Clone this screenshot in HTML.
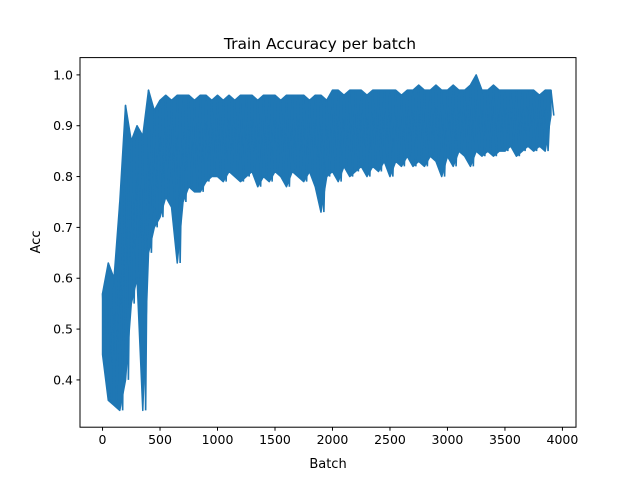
<!DOCTYPE html>
<html><head><meta charset="utf-8"><style>
html,body{margin:0;padding:0;background:#fff;}
svg{display:block;font-family:"DejaVu Sans","Liberation Sans",sans-serif;}
</style></head><body>
<svg id="chart" width="640" height="480" viewBox="0 0 640 480">
<rect width="640" height="480" fill="#fff"/>
<text x="320" y="49" text-anchor="middle" font-size="15.5">Train Accuracy per batch</text>
<text x="328" y="468" text-anchor="middle" font-size="13">Batch</text>
<text x="40" y="242" text-anchor="middle" font-size="13" transform="rotate(-90 40 242)">Acc</text>
<g id="plot"></g>
<rect x="80" y="57.6" width="496" height="369.6" fill="none" stroke="#000" stroke-width="1"/>
</svg>
<script>
const batchStep = 50;
const accHigh = [
0.57,0.63,0.60,0.75,0.94,
0.87,0.90,0.88,0.97,0.93,
0.95,0.96,0.95,0.96,0.96,
0.96,0.95,0.96,0.96,0.95,
0.96,0.95,0.96,0.95,0.96,
0.96,0.96,0.95,0.96,0.96,
0.96,0.95,0.96,0.96,0.96,
0.96,0.95,0.96,0.96,0.95,
0.97,0.97,0.96,0.97,0.97,
0.97,0.96,0.97,0.97,0.97,
0.97,0.97,0.96,0.97,0.97,
0.98,0.97,0.97,0.98,0.97,
0.97,0.98,0.97,0.97,0.98,
1.00,0.97,0.97,0.98,0.97,
0.97,0.97,0.97,0.97,0.97,
0.97,0.96,0.97,0.97
];
const accLow = [
0.45,0.36,0.35,0.34,0.40,
0.55,0.60,0.34,0.65,0.70,
0.72,0.76,0.74,0.63,0.75,
0.78,0.77,0.77,0.79,0.80,
0.80,0.79,0.81,0.80,0.79,
0.80,0.81,0.78,0.80,0.79,
0.81,0.80,0.78,0.81,0.80,
0.79,0.81,0.78,0.73,0.80,
0.81,0.79,0.82,0.80,0.81,
0.82,0.80,0.82,0.81,0.83,
0.80,0.83,0.82,0.84,0.82,
0.83,0.82,0.84,0.83,0.80,
0.84,0.82,0.85,0.84,0.82,
0.85,0.84,0.85,0.84,0.85,
0.85,0.86,0.84,0.85,0.86,
0.85,0.86,0.85,0.92
];
const xTicks = [0,500,1000,1500,2000,2500,3000,3500,4000];
const yTicks = [0.4,0.5,0.6,0.7,0.8,0.9,1.0];
const yTickLabels = ["0.4","0.5","0.6","0.7","0.8","0.9","1.0"];

const NS="http://www.w3.org/2000/svg";
const L=80,R=576,T=57.6,B=427.2;
const xMin=-196,xMax=4118,yMin=0.307,yMax=1.034;
function xs(v){return L+(v-xMin)/(xMax-xMin)*(R-L);}
function ys(v){return B-(v-yMin)/(yMax-yMin)*(B-T);}
const g=document.getElementById('plot');

let pts=[];
accHigh.forEach((v,i)=>pts.push(xs(i*batchStep).toFixed(2)+","+ys(v).toFixed(2)));
for(let i=accLow.length-1;i>=0;i--) pts.push(xs(i*batchStep).toFixed(2)+","+ys(accLow[i]).toFixed(2));
const band=document.createElementNS(NS,'polygon');
band.setAttribute('points',pts.join(' '));
band.setAttribute('fill','#1f77b4');
band.setAttribute('stroke','#1f77b4');
band.setAttribute('stroke-width','1.5');
band.setAttribute('stroke-linejoin','round');


g.appendChild(band);

let d="";
accHigh.forEach((v,i)=>{d+=(i?"L":"M")+xs(i*batchStep).toFixed(2)+","+ys(v).toFixed(2)+"L"+xs(i*batchStep+batchStep/2).toFixed(2)+","+ys(accLow[i]).toFixed(2);});
const line=document.createElementNS(NS,'path');
line.setAttribute('d',d);
line.setAttribute('fill','none');
line.setAttribute('stroke','#1f77b4');
line.setAttribute('stroke-width','1.6');


g.appendChild(line);

xTicks.forEach(t=>{
  const x=xs(t);
  const tk=document.createElementNS(NS,'line');
  tk.setAttribute('x1',x);tk.setAttribute('x2',x);tk.setAttribute('y1',B);tk.setAttribute('y2',B+3.5);
  tk.setAttribute('stroke','#000');
  
  
  g.appendChild(tk);
  const tx=document.createElementNS(NS,'text');
  tx.setAttribute('x',x);tx.setAttribute('y',B+17);tx.setAttribute('text-anchor','middle');tx.setAttribute('font-size','12.5');
  tx.textContent=String(t);
  
  
  g.appendChild(tx);
});
yTicks.forEach((t,i)=>{
  const y=ys(t);
  const tk=document.createElementNS(NS,'line');
  tk.setAttribute('x1',L-3.5);tk.setAttribute('x2',L);tk.setAttribute('y1',y);tk.setAttribute('y2',y);
  tk.setAttribute('stroke','#000');
  
  
  g.appendChild(tk);
  const tx=document.createElementNS(NS,'text');
  tx.setAttribute('x',L-7);tx.setAttribute('y',y+4.5);tx.setAttribute('text-anchor','end');tx.setAttribute('font-size','12.5');
  tx.textContent=yTickLabels[i];
  
  
  g.appendChild(tx);
});
</script>
</body></html>
